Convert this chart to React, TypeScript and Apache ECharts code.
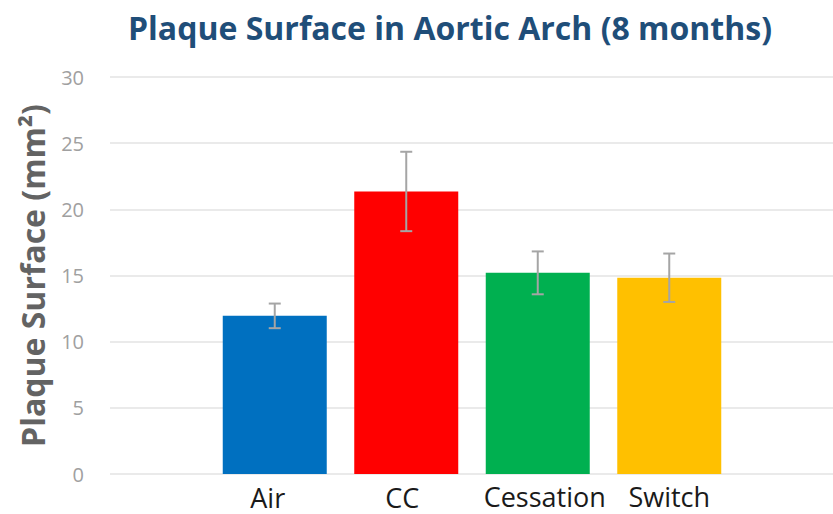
import React, { useEffect, useRef } from "react";
import * as echarts from "echarts";

const categories = ["Air", "CC", "Cessation", "Switch"];
const means = [11.95, 21.35, 15.2, 14.83];
const errors = [0.93, 3.0, 1.62, 1.83];
const barColors = ["#0070C0", "#FF0000", "#00B050", "#FFC000"];
const yTicks = { min: 0, max: 30, interval: 5 };
const titleText = "Plaque Surface in Aortic Arch (8 months)";
const yName = "Plaque Surface (mm²)";

const labelStyle: Record<string, string> = {
  Air: "a",
  CC: "c",
  Cessation: "s",
  Switch: "w",
};

export default function App() {
  const ref = useRef<HTMLDivElement>(null);
  useEffect(() => {
    if (!ref.current) return;
    const chart = echarts.init(ref.current, null, { renderer: "svg" });
    const font = "'Open Sans', sans-serif";
    const lab = { fontFamily: font, fontSize: 27, color: "#1a1a1a", lineHeight: 27 };
    const option: any = {
      animation: false,
      backgroundColor: "#ffffff",
      title: {
        text: titleText,
        left: 445,
        textAlign: "center",
        top: 6,
        textStyle: {
          fontFamily: font,
          fontWeight: "bold",
          fontSize: 32,
          color: "#1F4E79",
        },
      },
      grid: [
        { left: 110, right: 0, top: 77, bottom: 40 },
        { left: 209, right: 98, top: 77, bottom: 40 },
      ],
      xAxis: [
        { type: "category", gridIndex: 0, data: categories, show: false },
        {
          type: "category",
          gridIndex: 1,
          data: categories,
          axisLine: { show: false },
          axisTick: { show: false },
          axisLabel: {
            interval: 0,
            hideOverlap: false,
            margin: 9,
            ...lab,
            formatter: (v: string) => `{${labelStyle[v]}|${v}}`,
            rich: {
              a: { ...lab, padding: [1, 14, 0, 0] },
              c: { ...lab, padding: [1, 8, 0, 0] },
              s: { ...lab, padding: [0, 0, 0, 14] },
              w: { ...lab, padding: [0, 0, 0, 0] },
            },
          },
        },
      ],
      yAxis: [
        {
          type: "value",
          gridIndex: 0,
          min: yTicks.min,
          max: yTicks.max,
          interval: yTicks.interval,
          name: yName,
          nameLocation: "middle",
          nameGap: 62,
          nameTextStyle: {
            fontFamily: font,
            fontWeight: "bold",
            fontSize: 32,
            color: "#636363",
          },
          axisLine: { show: false },
          axisTick: { show: false },
          axisLabel: {
            margin: 26,
            fontFamily: font,
            fontSize: 20,
            color: "#A0A0A0",
          },
          splitLine: { lineStyle: { color: "#E3E3E3", width: 1.5 } },
        },
        {
          type: "value",
          gridIndex: 1,
          min: yTicks.min,
          max: yTicks.max,
          interval: yTicks.interval,
          show: false,
          splitLine: { show: false },
        },
      ],
      series: [
        {
          type: "bar",
          xAxisIndex: 1,
          yAxisIndex: 1,
          barWidth: 104,
          data: means.map((v, i) => ({ value: v, itemStyle: { color: barColors[i] } })),
        },
        {
          type: "custom",
          xAxisIndex: 1,
          yAxisIndex: 1,
          data: means.map((m, i) => [i, m - errors[i], m + errors[i]]),
          renderItem: (params: any, api: any) => {
            const x = api.value(0);
            const lo = api.coord([x, api.value(1)]);
            const hi = api.coord([x, api.value(2)]);
            const half = 6;
            const style = { stroke: "#A5A5A5", lineWidth: 2, fill: "none" };
            return {
              type: "group",
              children: [
                { type: "line", shape: { x1: lo[0], y1: lo[1], x2: hi[0], y2: hi[1] }, style },
                { type: "line", shape: { x1: lo[0] - half, y1: lo[1], x2: lo[0] + half, y2: lo[1] }, style },
                { type: "line", shape: { x1: hi[0] - half, y1: hi[1], x2: hi[0] + half, y2: hi[1] }, style },
              ],
            };
          },
          z: 10,
        },
      ],
    };
    chart.setOption(option);
    return () => chart.dispose();
  }, []);
  return <div ref={ref} style={{ width: 833, height: 514, position: "absolute", left: 0, top: 0 }} />;
}
